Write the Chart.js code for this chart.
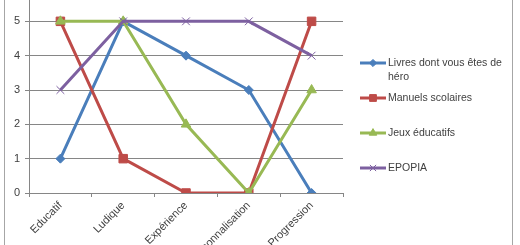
<!DOCTYPE html>
<html lang="fr">
<head>
<meta charset="utf-8">
<script src="https://cdn.jsdelivr.net/npm/chart.js@4.4.1/dist/chart.umd.min.js"></script>
<style>
    html, body { margin: 0; padding: 0; background: #fff; overflow: hidden; }
    #cadre { position: relative; width: 520px; height: 245px; overflow: hidden; }
    #graphique { position: absolute; left: 0; top: -20px; }
</style>
</head>
<body>
<div id="cadre">
    <canvas id="graphique" width="520" height="290" style="width:520px;height:290px"></canvas>
</div>
<script>
// Données du graphique
const categories = ['Educatif', 'Ludique', 'Expérience', 'Personnalisation', 'Progression'];
const nomsSeries = ['Livres dont vous êtes de héro', 'Manuels scolaires', 'Jeux éducatifs', 'EPOPIA'];
const livres = [1, 5, 4, 3, 0];
const manuels = [5, 1, 0, 0, 5];
const jeux = [5, 5, 2, 0, 3];
const epopia = [3, 5, 5, 5, 4];
const yMin = 0;
const yMax = 6;
const yPas = 1;

const GRIS = '#868686';
const TEXTE = '#404040';
const POLICE = 'Liberation Sans, Arial, sans-serif';

// Légende dessinée à la main (style Excel, avec retour à la ligne)
const legendeExcel = {
    id: 'legendeExcel',
    beforeDraw(chart) {
        const ctx = chart.ctx;
        ctx.save();
        ctx.strokeStyle = '#a6a6a6';
        ctx.lineWidth = 1;
        ctx.strokeRect(4.5, -10, 508, chart.height + 20);
        ctx.restore();
    },
    afterDraw(chart) {
        const ctx = chart.ctx;
        const x0 = 360, x1 = 386, xTexte = 388, largeurMax = 118;
        let y = 83;
        ctx.save();
        ctx.font = '10.5px ' + POLICE;
        ctx.textBaseline = 'middle';
        chart.data.datasets.forEach(ds => {
            ctx.strokeStyle = ds.borderColor;
            ctx.lineWidth = 3;
            ctx.beginPath();
            ctx.moveTo(x0, y);
            ctx.lineTo(x1, y);
            ctx.stroke();
            ctx.fillStyle = ds.backgroundColor;
            ctx.strokeStyle = ds.borderColor;
            ctx.lineWidth = ds.pointBorderWidth;
            Chart.helpers.drawPoint(ctx, {
                pointStyle: ds.pointStyle,
                radius: ds.pointRadius * 0.8,
                rotation: 0,
                borderWidth: ds.pointBorderWidth
            }, (x0 + x1) / 2, y);

            // retour à la ligne
            const mots = ds.label.split(' ');
            const lignes = [];
            let ligne = '';
            mots.forEach(m => {
                const essai = ligne ? ligne + ' ' + m : m;
                if (ctx.measureText(essai).width > largeurMax && ligne) {
                    lignes.push(ligne);
                    ligne = m;
                } else {
                    ligne = essai;
                }
            });
            lignes.push(ligne);
            ctx.fillStyle = TEXTE;
            lignes.forEach((l, i) => ctx.fillText(l, xTexte, y + i * 14));
            y += 35;
        });
        ctx.restore();
    }
};

function serie(label, data, couleur, style, rayon, ordre, bordPoint) {
    return {
        label: label,
        data: data,
        borderColor: couleur,
        backgroundColor: couleur,
        borderWidth: 3,
        pointStyle: style,
        pointRadius: rayon,
        pointBorderWidth: bordPoint,
        pointBackgroundColor: couleur,
        pointBorderColor: couleur,
        tension: 0,
        order: ordre
    };
}

document.addEventListener('DOMContentLoaded', () => {
    new Chart(document.getElementById('graphique'), {
        type: 'line',
        data: {
            labels: categories,
            datasets: [
                serie(nomsSeries[0], livres, '#4a7ebb', 'rectRot', 4.5, 4, 1),
                serie(nomsSeries[1], manuels, '#be4b48', 'rect', 6, 3, 1),
                serie(nomsSeries[2], jeux, '#98b954', 'triangle', 5.5, 2, 1),
                serie(nomsSeries[3], epopia, '#7d60a0', 'crossRot', 5.5, 1, 1)
            ]
        },
        options: {
            responsive: false,
            animation: false,
            layout: { padding: { top: 7, right: 177, left: 5, bottom: 0 } },
            plugins: {
                legend: { display: false },
                tooltip: { enabled: false }
            },
            scales: {
                x: {
                    offset: true,
                    grid: { offset: true, drawOnChartArea: false, tickLength: 4, color: GRIS },
                    border: { color: GRIS, width: 1 },
                    ticks: {
                        minRotation: 45, maxRotation: 45, padding: 2,
                        color: TEXTE, font: { family: POLICE, size: 11 }
                    },
                    afterFit(scale) {
                        scale.height = 77;
                        scale.paddingLeft = 0;
                        scale.paddingRight = 0;
                    }
                },
                y: {
                    min: yMin, max: yMax,
                    grid: { color: GRIS, tickLength: 4 },
                    border: { color: GRIS, width: 1 },
                    ticks: {
                        stepSize: yPas, padding: 5,
                        color: TEXTE, font: { family: POLICE, size: 11 }
                    },
                    afterFit(scale) {
                        scale.width = 24;
                        scale.paddingTop = 0;
                        scale.paddingBottom = 0;
                    }
                }
            }
        },
        plugins: [legendeExcel]
    });
});
</script>
</body>
</html>
